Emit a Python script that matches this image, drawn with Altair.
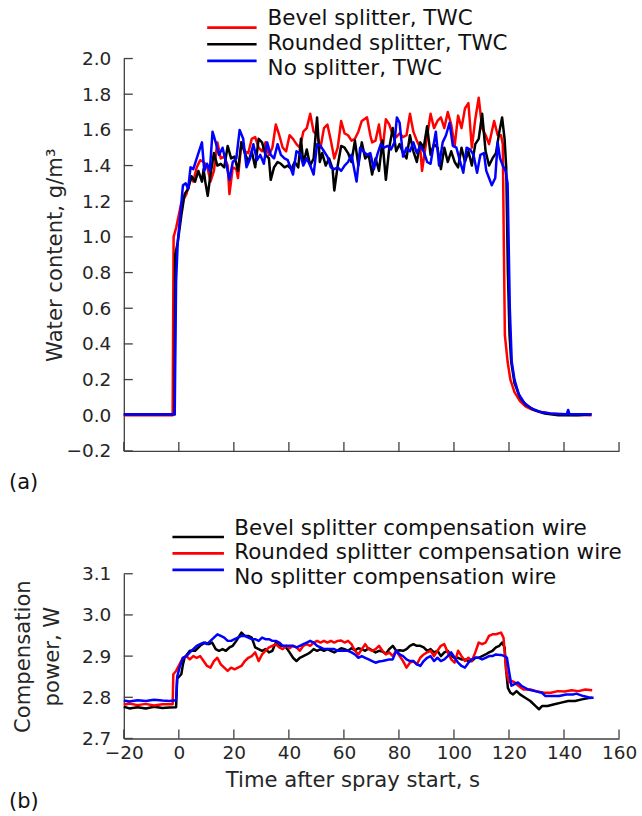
import altair as alt
import pandas as pd

# ---------------- data ----------------
x_ticks = [-20, 0, 20, 40, 60, 80, 100, 120, 140, 160]
top_y_ticks = [-0.2, 0.0, 0.2, 0.4, 0.6, 0.8, 1.0, 1.2, 1.4, 1.6, 1.8, 2.0]
bot_y_ticks = [2.7, 2.8, 2.9, 3.0, 3.1]

top_labels = ["Bevel splitter, TWC", "Rounded splitter, TWC", "No splitter, TWC"]
top_colors = ["#ff0000", "#000000", "#0000ff"]
bot_labels = ["Bevel splitter compensation wire", "Rounded splitter compensation wire",
              "No splitter compensation wire"]
bot_colors = ["#000000", "#ff0000", "#0000ff"]

# (a) Bevel splitter, TWC (red)
tb_t = [-20, -10, -2.25, -1.9, -1.0, 0.9, 2.75, 4.25, 5.25, 6.5, 7.75, 9.0, 10.25, 11.5, 12.75, 14.0,
        15.25, 16.5, 17.75, 18.4, 19.6, 20.9, 21.5, 22.75, 24.0, 25.25, 26.5, 27.75, 29.0, 30.25, 31.5,
        32.75, 34.0, 35.25, 36.5, 37.75, 39.0, 40.25, 41.5, 42.75, 44.0, 45.25, 46.5, 47.75, 49.0, 50.25,
        51.5, 52.75, 54.0, 55.25, 56.5, 57.75, 59.0, 60.25, 61.5, 62.75, 64.0, 65.25, 66.5, 68.4, 69.6,
        70.25, 71.5, 72.75, 74.0, 75.25, 76.5, 77.75, 79.0, 80.25, 81.5, 82.75, 84.0, 85.25, 86.5, 87.75,
        88.4, 89.6, 91.5, 92.75, 94.0, 95.25, 96.5, 97.75, 99.0, 100.25, 101.5, 102.75, 104.0, 105.25,
        106.5, 107.75, 109.0, 110.25, 111.5, 112.75, 114.6, 115.9, 117.1, 117.75, 118.1, 118.5, 119.5,
        120.5, 122, 124, 126, 128, 131, 135, 140, 150]
tb_v = [0.0, 0.0, 0.0, 1.0, 1.05, 1.19, 1.24, 1.33, 1.31, 1.39, 1.43, 1.42, 1.40, 1.31, 1.37, 1.53,
        1.44, 1.45, 1.40, 1.24, 1.39, 1.38, 1.33, 1.53, 1.48, 1.47, 1.55, 1.56, 1.50, 1.48, 1.53,
        1.46, 1.50, 1.63, 1.57, 1.50, 1.48, 1.57, 1.55, 1.52, 1.50, 1.59, 1.61, 1.69, 1.59, 1.57,
        1.50, 1.61, 1.63, 1.54, 1.44, 1.50, 1.65, 1.58, 1.57, 1.54, 1.55, 1.59, 1.65, 1.67, 1.57,
        1.53, 1.54, 1.63, 1.48, 1.66, 1.63, 1.57, 1.56, 1.58, 1.56, 1.57, 1.69, 1.59, 1.54, 1.50,
        1.37, 1.50, 1.69, 1.61, 1.65, 1.67, 1.61, 1.70, 1.63, 1.51, 1.68, 1.61, 1.72, 1.75,
        1.50, 1.66, 1.78, 1.61, 1.57, 1.52, 1.65, 1.57, 1.57, 1.52, 1.00, 0.45, 0.30,
        0.20, 0.13, 0.08, 0.05, 0.035, 0.02, 0.01, 0.003, 0.0]

# (a) Rounded splitter, TWC (black)
tr_t = [-20, -10, -1.6, -1.3, -0.4, 0.9, 2.1, 3.4, 4.6, 5.9, 7.1, 8.4, 9.0, 9.6, 10.5, 11.5, 12.75,
        14.0, 15.25, 16.5, 17.75, 19.0, 20.25, 21.5, 22.75, 24.0, 25.25, 26.5, 27.75, 29.0, 30.25, 31.5,
        32.75, 33.4, 34.6, 35.9, 37.1, 38.4, 39.6, 40.9, 42.1, 43.4, 44.4, 45.25, 46.5, 47.75, 49.0,
        50.25, 51.25, 52.1, 53.4, 54.6, 55.9, 56.5, 57.75, 59.0, 60.25, 61.5, 62.75, 64.0, 65.25, 66.5,
        67.75, 69.0, 70.25, 71.5, 72.75, 74.0, 75.25, 76.5, 77.75, 79.0, 80.25, 81.5, 82.75, 84.0, 85.25,
        86.5, 87.75, 89.0, 90.25, 91.5, 92.75, 94.0, 95.25, 96.5, 97.75, 99.0, 100.25, 101.5, 102.75,
        104.0, 105.25, 106.5, 107.75, 109.0, 110.25, 111.5, 112.75, 114.0, 115.25, 116.5, 117.5, 118.4,
        119.0, 119.6, 120.2, 120.8, 122, 124, 126, 129, 133, 138, 145, 150]
tr_v = [0.005, 0.005, 0.005, 0.90, 0.97, 1.12, 1.24, 1.27, 1.34, 1.31, 1.37, 1.31, 1.38, 1.31, 1.23, 1.35, 1.47,
        1.40, 1.41, 1.39, 1.51, 1.44, 1.45, 1.37, 1.53, 1.47, 1.42, 1.48, 1.39, 1.55, 1.53, 1.46,
        1.44, 1.32, 1.39, 1.42, 1.41, 1.39, 1.40, 1.38, 1.42, 1.39, 1.55, 1.41, 1.49, 1.40, 1.44,
        1.67, 1.42, 1.47, 1.40, 1.44, 1.38, 1.26, 1.40, 1.51, 1.50, 1.47, 1.42, 1.54, 1.40, 1.53,
        1.44, 1.46, 1.35, 1.44, 1.37, 1.54, 1.32, 1.50, 1.61, 1.48, 1.52, 1.47, 1.44, 1.57, 1.48,
        1.42, 1.53, 1.50, 1.62, 1.46, 1.52, 1.50, 1.38, 1.50, 1.42, 1.48, 1.42, 1.39, 1.50,
        1.42, 1.48, 1.40, 1.52, 1.55, 1.69, 1.48, 1.40, 1.44, 1.47, 1.59, 1.67, 1.55,
        1.39, 0.80, 0.45, 0.30, 0.18, 0.10, 0.06, 0.03, 0.01, 0.0, 0.0, 0.005]

# (a) No splitter, TWC (blue)
tn_t = [-20, -10, -1.5, -1.0, -0.4, 0.5, 1.5, 2.5, 3.4, 4.25, 5.25, 6.5, 8.4, 9.25, 10.25, 11.25, 12.25,
        13.4, 14.6, 15.9, 17.1, 18.4, 19.6, 20.9, 22.1, 23.4, 24.6, 25.9, 27.1, 28.4, 29.6, 30.9, 32.1,
        33.4, 34.6, 35.9, 37.1, 38.4, 39.6, 41.5, 42.75, 44.0, 45.25, 46.5, 47.75, 49.0, 50.25, 51.5,
        52.75, 54.0, 55.25, 56.5, 57.75, 59.0, 60.25, 61.5, 62.75, 64.6, 65.9, 67.1, 68.4, 69.6, 70.9,
        72.1, 73.4, 74.6, 75.9, 77.1, 78.4, 79.25, 80.25, 81.5, 82.75, 84.0, 85.25, 86.5, 87.75, 89.0,
        90.25, 91.5, 92.75, 93.4, 94.6, 95.9, 97.1, 98.4, 99.6, 100.9, 102.1, 103.4, 104.6, 105.9,
        107.1, 108.4, 109.6, 110.9, 111.75, 112.75, 113.75, 115.0, 115.9, 116.75, 117.75, 118.75,
        119.5, 120.3, 121.0, 122, 123.5, 125.5, 128, 131, 135, 141, 141.5, 142, 150]
tn_v = [0.005, 0.005, 0.005, 0.75, 0.97, 1.12, 1.29, 1.30, 1.27, 1.39, 1.38, 1.44, 1.53, 1.37, 1.41, 1.37, 1.59,
        1.53, 1.46, 1.50, 1.42, 1.32, 1.42, 1.44, 1.60, 1.55, 1.39, 1.44, 1.52, 1.43, 1.46, 1.41, 1.53,
        1.46, 1.44, 1.52, 1.46, 1.44, 1.43, 1.35, 1.48, 1.47, 1.40, 1.44, 1.40, 1.35, 1.52, 1.51,
        1.48, 1.45, 1.39, 1.38, 1.39, 1.37, 1.40, 1.42, 1.46, 1.31, 1.50, 1.48, 1.46, 1.47, 1.38,
        1.46, 1.52, 1.50, 1.51, 1.49, 1.53, 1.67, 1.64, 1.45, 1.50, 1.48, 1.53, 1.47, 1.51, 1.48,
        1.42, 1.41, 1.53, 1.59, 1.40, 1.53, 1.57, 1.64, 1.51, 1.50, 1.43, 1.36, 1.50, 1.49,
        1.46, 1.36, 1.46, 1.47, 1.37, 1.33, 1.29, 1.33, 1.53, 1.44, 1.40, 1.37,
        1.30, 0.60, 0.30, 0.20, 0.12, 0.07, 0.04, 0.02, 0.01, 0.005, 0.03, 0.005, 0.005]

# (b) Bevel splitter compensation wire (black)
bb_t = [-20, -18, -15, -12, -9, -6, -3.5, -1.0, -0.6, 0.9, 1.5, 2.1, 4.0, 5.9, 7.75, 9.6, 10.9, 12.1,
        13.4, 14.6, 15.9, 17.1, 18.4, 19.6, 20.9, 22.75, 24.0, 25.25, 26.5, 27.75, 29.0, 30.25, 31.5,
        32.75, 34.0, 35.25, 36.5, 37.75, 39.0, 40.25, 41.5, 42.75, 44.0, 45.25, 46.5, 47.75, 49.0, 50.25,
        51.5, 52.75, 54.0, 55.25, 56.5, 57.75, 59.0, 60.25, 61.5, 62.75, 64.0, 65.25, 66.5, 67.75, 69.0,
        70.25, 71.5, 72.75, 74.0, 75.25, 76.5, 77.75, 79.0, 80.25, 81.5, 82.75, 84.0, 85.25, 86.5, 87.75,
        89.0, 90.25, 91.5, 92.75, 94.0, 95.25, 96.5, 97.75, 99.0, 100.25, 101.5, 102.75, 104.0, 105.25,
        106.5, 107.75, 109.0, 110.25, 111.5, 112.75, 114.0, 115.25, 116.5, 117.5, 118.4, 119.0, 119.6,
        120.5, 121.5, 122.75, 124.0, 125.9, 127.75, 129.6, 130.9, 132.1, 134.0, 136.5, 139.0, 141.5,
        144.0, 146.5, 149.0, 150.25]
bb_v = [2.777, 2.773, 2.776, 2.773, 2.777, 2.774, 2.775, 2.776, 2.845, 2.856, 2.880, 2.896, 2.913, 2.913,
        2.925, 2.933, 2.929, 2.933, 2.917, 2.913, 2.917, 2.913, 2.921, 2.925, 2.937, 2.957, 2.949, 2.949,
        2.945, 2.921, 2.917, 2.913, 2.917, 2.909, 2.913, 2.933, 2.925, 2.925, 2.921, 2.909, 2.896, 2.888,
        2.896, 2.900, 2.904, 2.909, 2.917, 2.913, 2.917, 2.913, 2.917, 2.913, 2.909, 2.914, 2.919, 2.917,
        2.913, 2.919, 2.914, 2.919, 2.917, 2.913, 2.919, 2.914, 2.909, 2.913, 2.911, 2.906, 2.917, 2.925,
        2.913, 2.914, 2.913, 2.917, 2.925, 2.929, 2.925, 2.925, 2.921, 2.913, 2.917, 2.909, 2.913, 2.900,
        2.909, 2.913, 2.900, 2.896, 2.896, 2.892, 2.892, 2.888, 2.888, 2.896, 2.896, 2.900, 2.904, 2.909,
        2.913, 2.921, 2.925, 2.933, 2.921, 2.864, 2.823, 2.811, 2.807, 2.815, 2.807, 2.799, 2.791, 2.779,
        2.771, 2.779, 2.779, 2.783, 2.787, 2.791, 2.791, 2.795, 2.798, 2.799]

# (b) Rounded splitter compensation wire (red)
br_t = [-20, -18, -15, -12, -9, -6, -3.5, -2.25, -2.0, -1.0, 0.25, 1.5, 2.75, 4.0, 5.25, 6.5, 7.75, 9.0,
        10.25, 11.5, 12.75, 14.0, 15.25, 16.5, 17.75, 19.0, 20.25, 21.5, 22.75, 24.0, 25.25, 26.5, 27.75,
        29.0, 30.25, 31.5, 32.75, 34.0, 35.25, 36.5, 37.75, 39.0, 40.25, 41.5, 42.75, 44.0, 45.25, 46.5,
        47.75, 49.0, 50.25, 51.5, 52.75, 54.0, 55.25, 56.5, 57.75, 59.0, 60.25, 61.5, 62.75, 64.0, 65.25,
        66.5, 67.75, 69.0, 70.25, 71.5, 72.75, 74.0, 75.25, 76.5, 77.75, 79.0, 80.25, 81.5, 82.75, 84.0,
        85.25, 86.5, 87.75, 89.0, 90.25, 91.5, 92.75, 94.0, 95.25, 96.5, 97.75, 99.0, 100.25, 101.5,
        102.75, 104.0, 105.25, 106.5, 107.75, 109.0, 110.25, 111.5, 112.75, 114.0, 115.25, 117.1, 118.0,
        119.0, 120.0, 120.9, 122.1, 123.4, 125.25, 127.75, 130.25, 132.75, 135.25, 137.75, 140.25,
        142.75, 145.25, 147.75, 150.25]
br_v = [2.782, 2.785, 2.781, 2.784, 2.780, 2.783, 2.783, 2.783, 2.856, 2.864, 2.880, 2.896, 2.900, 2.892,
        2.900, 2.896, 2.900, 2.888, 2.876, 2.872, 2.888, 2.896, 2.880, 2.872, 2.864, 2.872, 2.868, 2.872,
        2.876, 2.888, 2.896, 2.900, 2.909, 2.888, 2.904, 2.913, 2.921, 2.925, 2.929, 2.921, 2.917, 2.925,
        2.919, 2.925, 2.921, 2.913, 2.925, 2.929, 2.925, 2.933, 2.937, 2.933, 2.937, 2.933, 2.937, 2.933,
        2.937, 2.938, 2.933, 2.937, 2.929, 2.913, 2.904, 2.917, 2.929, 2.917, 2.913, 2.917, 2.925, 2.913,
        2.904, 2.909, 2.900, 2.913, 2.900, 2.888, 2.872, 2.884, 2.888, 2.880, 2.896, 2.904, 2.909, 2.913,
        2.900, 2.913, 2.925, 2.929, 2.909, 2.892, 2.884, 2.913, 2.900, 2.888, 2.896, 2.888, 2.909, 2.933,
        2.929, 2.933, 2.949, 2.953, 2.953, 2.957, 2.945, 2.864, 2.836, 2.840, 2.836, 2.828, 2.819, 2.819,
        2.814, 2.811, 2.811, 2.815, 2.814, 2.817, 2.815, 2.819, 2.817]

# (b) No splitter compensation wire (blue)
bn_t = [-20, -18, -15, -12, -9, -6, -3.5, -1.0, -0.6, 0.25, 1.5, 2.75, 4.0, 5.25, 6.5, 7.75, 9.0, 10.25,
        11.5, 12.75, 14.0, 15.25, 16.5, 17.75, 19.0, 20.25, 21.5, 22.75, 24.0, 25.25, 26.5, 27.75, 29.0,
        30.25, 31.5, 32.75, 34.0, 35.25, 36.5, 37.75, 39.0, 40.25, 41.5, 42.75, 44.0, 45.25, 46.5, 47.75,
        49.0, 50.25, 51.5, 52.75, 54.0, 55.25, 56.5, 57.75, 59.0, 60.25, 61.5, 62.75, 64.0, 65.25, 66.5,
        67.75, 69.0, 70.25, 71.5, 72.75, 74.0, 75.25, 76.5, 77.75, 79.0, 80.25, 81.5, 82.75, 84.0, 85.25,
        86.5, 87.75, 89.0, 90.25, 91.5, 92.75, 94.0, 95.25, 96.5, 97.75, 99.0, 100.25, 101.5, 102.75,
        104.0, 105.25, 106.5, 107.75, 109.0, 110.25, 111.5, 112.75, 114.0, 115.25, 116.5, 117.1, 118.4,
        119.25, 120.0, 120.9, 122.0, 123.25, 124.5, 127.0, 129.5, 132.0, 133.25, 135.75, 138.25, 140.75,
        143.25, 144.5, 147.0, 149.5, 150.75]
bn_v = [2.792, 2.790, 2.793, 2.791, 2.794, 2.792, 2.791, 2.793, 2.850, 2.872, 2.896, 2.900, 2.909, 2.917,
        2.925, 2.929, 2.933, 2.929, 2.937, 2.945, 2.953, 2.949, 2.945, 2.937, 2.937, 2.941, 2.945, 2.949,
        2.949, 2.945, 2.941, 2.941, 2.937, 2.945, 2.941, 2.941, 2.937, 2.937, 2.933, 2.925, 2.925, 2.925,
        2.925, 2.921, 2.925, 2.929, 2.933, 2.937, 2.933, 2.925, 2.921, 2.917, 2.917, 2.917, 2.917, 2.913,
        2.913, 2.913, 2.913, 2.909, 2.904, 2.896, 2.900, 2.896, 2.892, 2.888, 2.884, 2.887, 2.888, 2.890,
        2.892, 2.892, 2.913, 2.904, 2.900, 2.892, 2.888, 2.888, 2.880, 2.876, 2.888, 2.896, 2.900, 2.888,
        2.896, 2.888, 2.892, 2.900, 2.909, 2.896, 2.884, 2.876, 2.872, 2.884, 2.892, 2.896, 2.896, 2.892,
        2.896, 2.900, 2.900, 2.904, 2.903, 2.903, 2.900, 2.896, 2.864, 2.828, 2.832, 2.836, 2.828, 2.819,
        2.815, 2.811, 2.803, 2.803, 2.803, 2.807, 2.807, 2.809, 2.803, 2.799, 2.799]

# ---------------- styling ----------------
FONT = "DejaVu Sans"
AXIS_COLOR = "#404040"
TEXT_COLOR = "#262626"
W = 496
H_TOP = 393
H_BOT = 165
TICK_LEN = 9

x_scale = alt.Scale(domain=[-20, 160], nice=False, zero=False)
top_y_scale = alt.Scale(domain=[-0.2, 2.0], nice=False, zero=False)
bot_y_scale = alt.Scale(domain=[2.7, 3.1], nice=False, zero=False)

x_axis_top = alt.Axis(values=x_ticks, labels=False, title=None)
x_axis_bot = alt.Axis(values=x_ticks, format="d", title="Time after spray start, s",
                      labelPadding=5, labelFlush=False, labelOverlap=False,
                      titleX=229, titleY=48, titleBaseline="alphabetic", titleAlign="center")
y_axis_top = alt.Axis(values=top_y_ticks, format=".1f", title="Water content, g/m³",
                      labelFlush=False, labelOverlap=False,
                      titleAngle=270, titleX=-62, titleBaseline="alphabetic", titleAlign="center")
y_axis_bot = alt.Axis(values=bot_y_ticks, format=".1f", title=["Compensation", "power, W"],
                      labelFlush=False, labelOverlap=False,
                      titleAngle=270, titleX=-94, titleBaseline="alphabetic", titleAlign="center",
                      titleLineHeight=29)


def series_layer(t, v, color, y_scale, x_axis, y_axis):
    df = pd.DataFrame({"t": t, "v": v})
    return alt.Chart(df).mark_line(color=color, strokeWidth=2.5, strokeJoin="round").encode(
        x=alt.X("t:Q", scale=x_scale, axis=x_axis),
        y=alt.Y("v:Q", scale=y_scale, axis=y_axis),
    )


def tick_layers(y_ticks, y_scale, x_axis, y_axis, height):
    xt = pd.DataFrame({"t": x_ticks})
    yt = pd.DataFrame({"v": y_ticks})
    xr = alt.Chart(xt).mark_rule(color=AXIS_COLOR, strokeWidth=1.3).encode(
        x=alt.X("t:Q", scale=x_scale, axis=x_axis),
        y=alt.value(height), y2=alt.value(height - TICK_LEN))
    yr = alt.Chart(yt).mark_rule(color=AXIS_COLOR, strokeWidth=1.3).encode(
        y=alt.Y("v:Q", scale=y_scale, axis=y_axis),
        x=alt.value(0), x2=alt.value(TICK_LEN))
    return [xr, yr]


def legend_layers(labels, colors, y_first, y_last, x_line0, x_line1, x_text):
    df = pd.DataFrame({"label": labels})
    ysc = alt.Scale(domain=labels, range=[y_first, y_last], padding=0)
    csc = alt.Scale(domain=labels, range=colors)
    rules = alt.Chart(df).mark_rule(strokeWidth=2.6).encode(
        y=alt.Y("label:N", scale=ysc, axis=None),
        x=alt.value(x_line0), x2=alt.value(x_line1),
        color=alt.Color("label:N", scale=csc, legend=None))
    texts = alt.Chart(df).mark_text(align="left", baseline="middle", font=FONT, fontSize=21.5,
                                    color="#111111").encode(
        y=alt.Y("label:N", scale=ysc, axis=None),
        x=alt.value(x_text), text="label:N")
    return [rules, texts]


def panel_tag(tag, y):
    df = pd.DataFrame({"tag": [tag]})
    return alt.Chart(df).mark_text(align="left", baseline="middle", font=FONT, fontSize=21,
                                   color="#111111").encode(
        x=alt.value(-115), y=alt.value(y), text="tag:N")


# ---------------- panel (a) ----------------
top_series = [
    series_layer(tb_t, tb_v, top_colors[0], top_y_scale, x_axis_top, y_axis_top),
    series_layer(tr_t, tr_v, top_colors[1], top_y_scale, x_axis_top, y_axis_top),
    series_layer(tn_t, tn_v, top_colors[2], top_y_scale, x_axis_top, y_axis_top),
]
top_data = alt.layer(*tick_layers(top_y_ticks, top_y_scale, x_axis_top, y_axis_top, H_TOP), *top_series)
top = alt.layer(
    top_data,
    *legend_layers(top_labels, top_colors, -39.3, 10.7, 83.5, 133, 144),
    panel_tag("(a)", 425),
).resolve_scale(y="independent", color="independent").properties(width=W, height=H_TOP)

# ---------------- panel (b) ----------------
bot_series = [
    series_layer(bb_t, bb_v, bot_colors[0], bot_y_scale, x_axis_bot, y_axis_bot),
    series_layer(br_t, br_v, bot_colors[1], bot_y_scale, x_axis_bot, y_axis_bot),
    series_layer(bn_t, bn_v, bot_colors[2], bot_y_scale, x_axis_bot, y_axis_bot),
]
bot_data = alt.layer(*tick_layers(bot_y_ticks, bot_y_scale, x_axis_bot, y_axis_bot, H_BOT), *bot_series)
bot = alt.layer(
    bot_data,
    *legend_layers(bot_labels, bot_colors, -45, 4.3, 48.7, 100.3, 110.6),
    panel_tag("(b)", 228.7),
).resolve_scale(y="independent", color="independent").properties(width=W, height=H_BOT)

chart = alt.vconcat(top, bot, spacing=25).resolve_scale(color="independent").properties(
    padding={"left": 9, "top": 7, "right": 5, "bottom": 2}, background="white"
).configure_view(stroke=None).configure_axis(
    grid=False, ticks=False, domainColor=AXIS_COLOR, domainWidth=1.3,
    labelFont=FONT, labelFontSize=18.5, labelColor=TEXT_COLOR, labelPadding=13,
    titleFont=FONT, titleFontSize=21.2, titleFontWeight="normal", titleColor=TEXT_COLOR,
)

chart.save("out.html", embed_options={"renderer": "svg", "actions": False})
